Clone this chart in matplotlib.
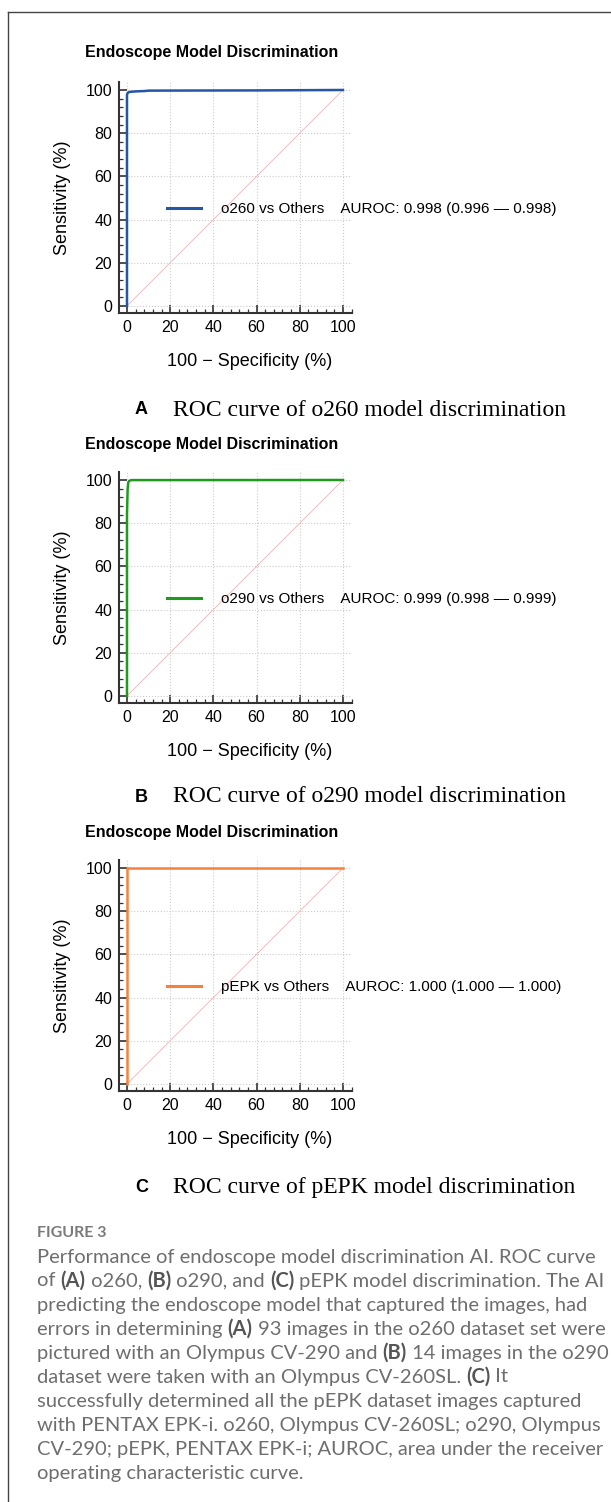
import matplotlib
matplotlib.use("Agg")
import matplotlib.pyplot as plt
from matplotlib.ticker import MultipleLocator
from matplotlib.lines import Line2D

# ROC points (100 - specificity, sensitivity), in %
fpr_o260 = [0, 0, 0.3, 0.8, 2, 5, 8, 10, 30, 60, 100]
tpr_o260 = [0, 97.8, 98.6, 99.0, 99.2, 99.4, 99.5, 99.7, 99.75, 99.8, 100]
fpr_o290 = [0, 0, 0.3, 0.6, 1.0, 2.0, 100]
tpr_o290 = [0, 84, 96, 98.8, 99.6, 99.95, 100]
fpr_pepk = [0, 0, 100]
tpr_pepk = [0, 100, 100]

names = ["o260", "o290", "pEPK"]
auroc = ["0.998 (0.996 \u2014 0.998)", "0.999 (0.998 \u2014 0.999)", "1.000 (1.000 \u2014 1.000)"]
panel_letters = ["A", "B", "C"]
colors = ["#2456a6", "#1f9a1f", "#f5823c"]
ticks = [0, 20, 40, 60, 80, 100]

caption_lines = [
    [("Performance of endoscope model discrimination AI. ROC curve", False)],
    [("of ", False), ("(A)", True), (" o260, ", False), ("(B)", True), (" o290, and ", False),
     ("(C)", True), (" pEPK model discrimination. The AI", False)],
    [("predicting the endoscope model that captured the images, had", False)],
    [("errors in determining ", False), ("(A)", True), (" 93 images in the o260 dataset set were", False)],
    [("pictured with an Olympus CV-290 and ", False), ("(B)", True), (" 14 images in the o290", False)],
    [("dataset were taken with an Olympus CV-260SL. ", False), ("(C)", True), (" It", False)],
    [("successfully determined all the pEPK dataset images captured", False)],
    [("with PENTAX EPK-i. o260, Olympus CV-260SL; o290, Olympus", False)],
    [("CV-290; pEPK, PENTAX EPK-i; AUROC, area under the receiver", False)],
    [("operating characteristic curve.", False)],
]

W, H = 611, 1502
fig = plt.figure(figsize=(W / 100, H / 100), dpi=100)
plt.rcParams["font.family"] = ["Liberation Sans", "DejaVu Sans"]

# frame lines of the figure box
fig.add_artist(Line2D([8 / W, 1], [1 - 12 / H, 1 - 12 / H], color="#444444", lw=1))
fig.add_artist(Line2D([8 / W, 8 / W], [0, 1 - 12 / H], color="#444444", lw=1))

curves = [(fpr_o260, tpr_o260), (fpr_o290, tpr_o290), (fpr_pepk, tpr_pepk)]
axes_bottom_px = [313, 703, 1091]
title_px = [52, 445, 833]
panel_caption_px = [410, 797, 1187]

for i, (fpr, tpr) in enumerate(curves):
    bot = axes_bottom_px[i]
    ax = fig.add_axes([119 / W, 1 - bot / H, 232.6 / W, 231 / H])
    ax.plot([0, 100], [0, 100], color="#f0b4b4", lw=0.6, zorder=1)
    ax.plot(fpr, tpr, color=colors[i], lw=1.8, zorder=3,
            label=f"{names[i]} vs Others    AUROC: {auroc[i]}")
    ax.set_xlim(-3.7, 104)
    ax.set_ylim(-3.3, 103.7)
    ax.set_xticks(ticks)
    ax.set_yticks(ticks)
    ax.xaxis.set_minor_locator(MultipleLocator(4))
    ax.yaxis.set_minor_locator(MultipleLocator(4))
    ax.grid(True, which="major", color="#cccccc", ls=":", lw=0.8)
    for s in ["top", "right"]:
        ax.spines[s].set_visible(False)
    for s in ["left", "bottom"]:
        ax.spines[s].set_color("#333333")
        ax.spines[s].set_linewidth(1.5)
    ax.tick_params(which="major", direction="in", length=6, width=1.2, color="#333333",
                   labelsize=11.5, pad=5)
    ax.tick_params(which="minor", direction="in", length=3, width=0.9, color="#333333")
    ax.set_xlabel("100 \u2212 Specificity (%)", fontsize=13)
    ax.set_ylabel("Sensitivity (%)", fontsize=13)
    ax.xaxis.set_label_coords(0.563, -0.212)
    ax.xaxis.label.set_va("center")
    ax.yaxis.set_label_coords(-0.245, 0.5)
    ax.yaxis.label.set_va("center")
    leg = ax.legend(loc="center left", bbox_to_anchor=(0.206, 0.45), frameon=False,
                    fontsize=11, handlelength=2.2, handletextpad=1.35,
                    borderpad=0, borderaxespad=0)
    leg.get_lines()[0].set_linewidth(2.2)

    fig.text(212 / W, 1 - title_px[i] / H, "Endoscope Model Discrimination",
             fontsize=11.5, fontweight="bold", ha="center", va="center")
    yc = 1 - panel_caption_px[i] / H
    fig.text(135 / W, yc, panel_letters[i], fontsize=13, fontweight="bold",
             ha="left", va="center")
    fig.text(173 / W, yc, f"ROC curve of {names[i]} model discrimination",
             fontsize=17, family=["Liberation Serif"], ha="left", va="center")

# figure caption
fig.text(37 / W, 1 - 1233 / H, "FIGURE 3", fontsize=11.5, fontweight="bold",
         color="#7a7a7a", family=["Lato", "DejaVu Sans"], va="center")

renderer = fig.canvas.get_renderer()
for k, line in enumerate(caption_lines):
    x = 37
    y = 1 - (1257 + 24 * k) / H
    for txt, bold in line:
        t = fig.text(x / W, y, txt, fontsize=14.5, family=["Lato", "DejaVu Sans"],
                     fontweight="bold" if bold else "normal",
                     color="#555555" if bold else "#6e6e6e", va="center")
        x += t.get_window_extent(renderer).width

fig.savefig("out.png", dpi=100)
